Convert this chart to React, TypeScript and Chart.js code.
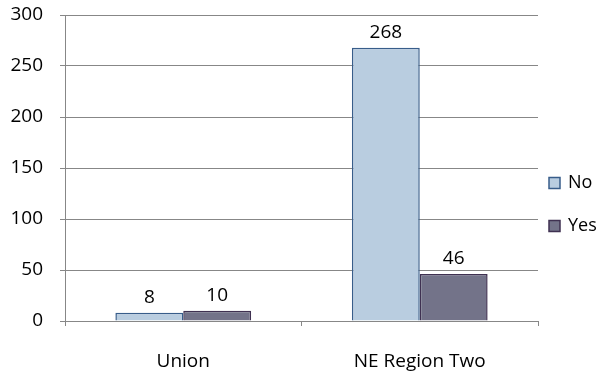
import React, { useEffect, useRef } from "react";
import { Chart, registerables } from "chart.js";

Chart.register(...registerables);

const categories = ["Union", "NE Region Two"];
const noValues = [8, 268];
const yesValues = [10, 46];
const seriesNames = ["No", "Yes"];
const yTicks = [0, 50, 100, 150, 200, 250, 300];

const FONT = "'Open Sans', Lato, sans-serif";
const GRID = "#878787";

const labelsPlugin = {
  id: "valueLabels",
  afterDatasetsDraw(chart: any) {
    const ctx = chart.ctx;
    ctx.save();
    ctx.font = `19px ${FONT}`;
    ctx.fillStyle = "#000";
    ctx.textAlign = "center";
    ctx.textBaseline = "alphabetic";
    chart.data.datasets.forEach((ds: any, i: number) => {
      const meta = chart.getDatasetMeta(i);
      meta.data.forEach((bar: any, j: number) => {
        ctx.fillText(String(ds.data[j]), bar.x, bar.y - 10);
      });
    });
    ctx.restore();
  },
};

const legendPlugin = {
  id: "customLegend",
  afterDraw(chart: any) {
    const ctx = chart.ctx;
    ctx.save();
    ctx.font = `18px ${FONT}`;
    ctx.textBaseline = "middle";
    ctx.textAlign = "left";
    const x = 549;
    const ys = [183, 226];
    chart.data.datasets.forEach((ds: any, i: number) => {
      const y = ys[i];
      ctx.fillStyle = ds.backgroundColor;
      ctx.fillRect(x, y - 5.5, 11, 11);
      ctx.strokeStyle = ds.borderColor;
      ctx.lineWidth = 1.5;
      ctx.strokeRect(x, y - 5.5, 11, 11);
      ctx.fillStyle = "#000";
      ctx.fillText(ds.label, x + 19, y);
    });
    ctx.restore();
  },
};

export default function App() {
  const ref = useRef<HTMLCanvasElement>(null);
  useEffect(() => {
    document.body.style.margin = "0";
    const chart = new Chart(ref.current!, {
      type: "bar",
      data: {
        labels: categories,
        datasets: [
          {
            label: seriesNames[0],
            data: noValues,
            backgroundColor: "#B9CDE0",
            borderColor: "#385D8A",
            borderWidth: 1.5,
            categoryPercentage: 0.574,
            barPercentage: 1,
          },
          {
            label: seriesNames[1],
            data: yesValues,
            backgroundColor: "#737389",
            borderColor: "#3F3151",
            borderWidth: 1.5,
            categoryPercentage: 0.574,
            barPercentage: 1,
          },
        ],
      },
      options: {
        responsive: false,
        animation: false,
        layout: { padding: { top: 15, right: 62, left: 0, bottom: 0 } },
        plugins: { legend: { display: false }, tooltip: { enabled: false } },
        scales: {
          x: {
            offset: true,
            grid: {
              offset: true,
              drawOnChartArea: false,
              drawTicks: true,
              tickLength: 5,
              color: GRID,
            },
            border: { color: GRID, width: 1 },
            ticks: { font: { family: FONT, size: 19 }, color: "#000", padding: 24 },
            afterFit(s: any) {
              s.height = 54;
              s.paddingLeft = 0;
              s.paddingRight = 0;
            },
          },
          y: {
            min: 0,
            max: 300,
            afterBuildTicks(s: any) {
              s.ticks = yTicks.map((v) => ({ value: v }));
            },
            grid: { color: GRID, tickLength: 5, lineWidth: 1 },
            border: { color: GRID, width: 1 },
            ticks: { font: { family: FONT, size: 19 }, color: "#000", padding: 17 },
            afterFit(s: any) {
              s.width = 65;
              s.paddingTop = 0;
              s.paddingBottom = 0;
            },
          },
        },
      },
      plugins: [labelsPlugin, legendPlugin],
    });
    return () => chart.destroy();
  }, []);
  return (
    <div style={{ width: 600, height: 375 }}>
      <canvas ref={ref} width={600} height={375} style={{ display: "block" }} />
    </div>
  );
}
